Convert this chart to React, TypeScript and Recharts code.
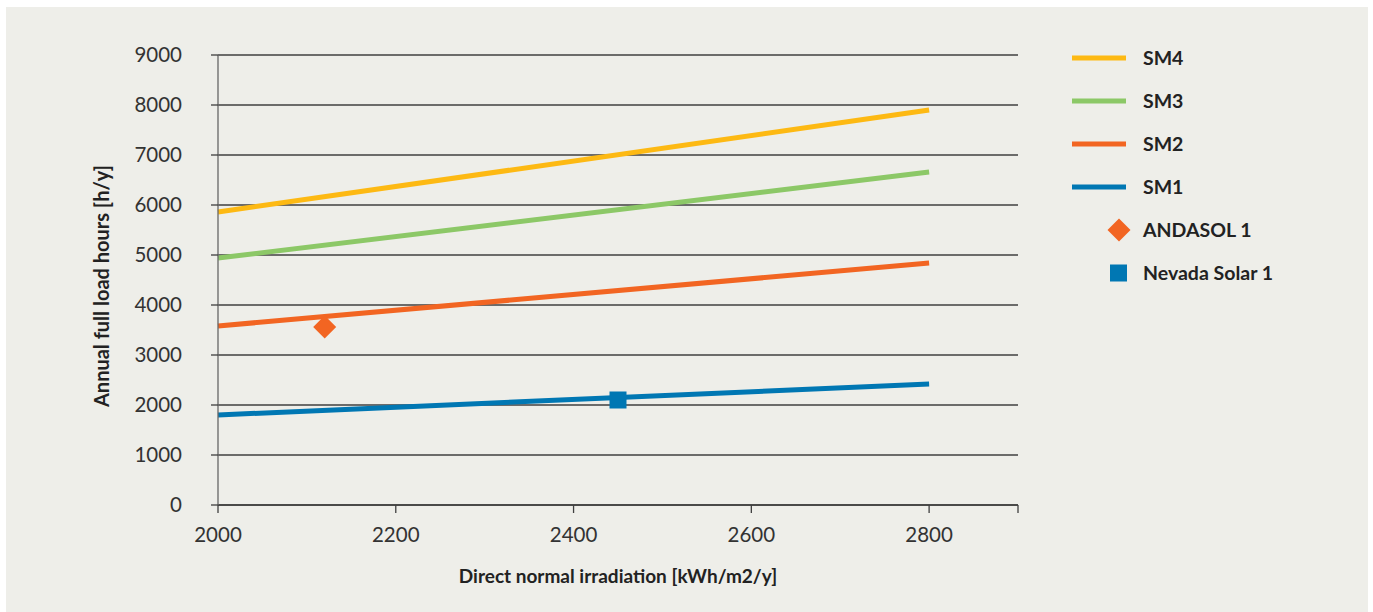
import { ComposedChart, Line, Scatter, XAxis, YAxis, CartesianGrid, Legend, Label } from "recharts"

const irradiation = [2000, 2800]
const sm4 = [5860, 7900]
const sm3 = [4940, 6660]
const sm2 = [3580, 4840]
const sm1 = [1800, 2420]
const andasol = [{ x: 2120, y: 3560 }]
const nevada = [{ x: 2450, y: 2100 }]
const xTicks = [2000, 2200, 2400, 2600, 2800, 2900]
const yTicks = [0, 1000, 2000, 3000, 4000, 5000, 6000, 7000, 8000, 9000]
const legendOrder = ["SM4", "SM3", "SM2", "SM1", "ANDASOL 1", "Nevada Solar 1"]

const data = irradiation.map((x, i) => ({ x, sm4: sm4[i], sm3: sm3[i], sm2: sm2[i], sm1: sm1[i] }))

const FONT = "Lato, 'DejaVu Sans', sans-serif"
const GRID = "#3f3f3f"

const Diamond = (props: any) => {
  const { cx, cy, fill } = props
  const r = 11.5
  return <polygon points={`${cx},${cy - r} ${cx + r},${cy} ${cx},${cy + r} ${cx - r},${cy}`} fill={fill} />
}

const Square = (props: any) => {
  const { cx, cy, fill } = props
  const s = 17
  return <rect x={cx - s / 2} y={cy - s / 2} width={s} height={s} fill={fill} />
}

const renderLegend = (props: any) => {
  const items = [...(props.payload || [])].sort(
    (a: any, b: any) => legendOrder.indexOf(a.value) - legendOrder.indexOf(b.value)
  )
  return (
    <div style={{ fontFamily: FONT }}>
      {items.map((it: any) => (
        <div key={it.value} style={{ display: "flex", alignItems: "center", height: 43 }}>
          <svg width={71} height={24} style={{ flex: "none" }}>
            {it.type === "line" && <rect x={0} y={9.5} width={54} height={5} fill={it.color} />}
            {it.type === "diamond" && <polygon points="47,0.5 58.5,12 47,23.5 35.5,12" fill={it.color} />}
            {it.type === "square" && <rect x={38} y={3.5} width={17} height={17} fill={it.color} />}
          </svg>
          <span style={{ fontWeight: 700, fontSize: 19.5, color: "#222" }}>{it.value}</span>
        </div>
      ))}
    </div>
  )
}

export default function App() {
  return (
    <div>
      <style>{`body{margin:0;background:#fff}`}</style>
      <div style={{ position: "absolute", left: 6, top: 7, width: 1362, height: 605, background: "#eeeee9" }}>
        <ComposedChart
          width={1362}
          height={605}
          data={data}
          margin={{ top: 48, right: 350, left: 82, bottom: 27 }}
          style={{ fontFamily: FONT }}
        >
          <CartesianGrid vertical={false} stroke={GRID} strokeWidth={1.3} />
          <XAxis
            dataKey="x"
            type="number"
            domain={[2000, 2900]}
            ticks={xTicks}
            tickFormatter={(v: number) => (v === 2900 ? "" : String(v))}
            height={80}
            tickSize={8}
            tickMargin={14}
            stroke={GRID}
            strokeWidth={1.3}
            tick={{ fontSize: 20.5, fill: "#333" }}
          >
            <Label
              content={({ viewBox }: any) => (
                <text
                  x={viewBox.x + viewBox.width / 2}
                  y={viewBox.y + 73}
                  textAnchor="middle"
                  dominantBaseline="middle"
                  fontSize={19}
                  fontWeight={700}
                  fill="#222"
                  fontFamily={FONT}
                >
                  Direct normal irradiation [kWh/m2/y]
                </text>
              )}
            />
          </XAxis>
          <YAxis
            type="number"
            domain={[0, 9000]}
            ticks={yTicks}
            width={130}
            tickSize={7}
            tickMargin={29}
            stroke="#666"
            strokeWidth={1.3}
            tickLine={{ stroke: GRID }}
            tick={{ fontSize: 20.5, fill: "#333" }}
          >
            <Label
              content={({ viewBox }: any) => {
                const cx = viewBox.x + 16
                const cy = viewBox.y + viewBox.height / 2 + 6
                return (
                  <text
                    x={cx}
                    y={cy}
                    transform={`rotate(-90, ${cx}, ${cy})`}
                    textAnchor="middle"
                    dominantBaseline="middle"
                    fontSize={20}
                    fontWeight={700}
                    fill="#222"
                    fontFamily={FONT}
                  >
                    Annual full load hours [h/y]
                  </text>
                )
              }}
            />
          </YAxis>
          <Legend
            layout="vertical"
            align="center"
            verticalAlign="middle"
            content={renderLegend}
            wrapperStyle={{ left: 1066, top: 29, width: 280 }}
          />
          <Line dataKey="sm4" name="SM4" stroke="#fdb913" strokeWidth={5} dot={false} legendType="line" isAnimationActive={false} />
          <Line dataKey="sm3" name="SM3" stroke="#8cc867" strokeWidth={5} dot={false} legendType="line" isAnimationActive={false} />
          <Line dataKey="sm2" name="SM2" stroke="#f26522" strokeWidth={5} dot={false} legendType="line" isAnimationActive={false} />
          <Line dataKey="sm1" name="SM1" stroke="#0077b3" strokeWidth={5} dot={false} legendType="line" isAnimationActive={false} />
          <Scatter data={andasol} dataKey="y" name="ANDASOL 1" fill="#f26522" shape={Diamond} legendType="diamond" isAnimationActive={false} />
          <Scatter data={nevada} dataKey="y" name="Nevada Solar 1" fill="#0077b3" shape={Square} legendType="square" isAnimationActive={false} />
        </ComposedChart>
      </div>
    </div>
  )
}
